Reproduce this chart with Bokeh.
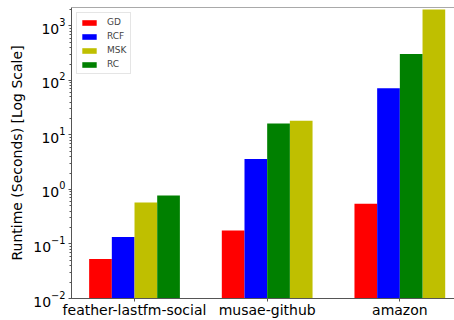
from bokeh.plotting import figure
from bokeh.models import FixedTicker, Range1d, Span, Legend, LegendItem, ColumnDataSource
from bokeh.embed import file_html
from bokeh.resources import INLINE

categories = ["feather-lastfm-social", "musae-github", "amazon"]
series = ["GD", "RCF", "MSK", "RC"]
colors = ["#ff0000", "#0000ff", "#bfbf00", "#008000"]
gd = [0.053, 0.177, 0.546]
rcf = [0.134, 3.63, 72.0]
msk = [0.575, 18.2, 2000.0]
rc = [0.775, 16.2, 305.0]
values = [gd, rcf, msk, rc]

bar_w = 0.171
y_bottom = 0.01
y_top = 2180.0

p = figure(width=454, height=320, output_backend="svg", toolbar_location=None,
           y_axis_type="log",
           x_range=Range1d(-0.475, 2.412), y_range=Range1d(y_bottom, y_top),
           min_border_left=71, min_border_right=0, min_border_top=7, min_border_bottom=0)
p.outline_line_color = None
p.xgrid.visible = False
p.ygrid.visible = False

# bars in each group are ordered by ascending value
n = len(series)
renderers = []
for si, name in enumerate(series):
    xs, tops = [], []
    for ci in range(len(categories)):
        col = [values[k][ci] for k in range(n)]
        rank = sorted(range(n), key=lambda k: col[k]).index(si)
        xs.append(ci + (rank - (n - 1) / 2) * bar_w)
        tops.append(values[si][ci])
    src = ColumnDataSource(dict(x=xs, top=tops, bottom=[y_bottom] * len(xs)))
    r = p.vbar(x="x", top="top", bottom="bottom", width=bar_w, source=src,
               fill_color=colors[si], line_color=None)
    renderers.append((name, r))

top_span = Span(location=y_top, dimension="width", line_color="#555555", line_width=1)
p.add_layout(top_span)

font = "DejaVu Sans"
xa = p.xaxis[0]
xa.ticker = FixedTicker(ticks=list(range(len(categories))))
xa.major_label_overrides = {i: c for i, c in enumerate(categories)}
xa.minor_tick_line_color = None
xa.major_tick_out = 3
xa.major_tick_in = 0
xa.major_label_standoff = 0
xa.axis_label_standoff = 0
xa.major_label_text_font = font
xa.major_label_text_font_size = "14px"
xa.major_label_text_color = "black"
xa.axis_line_color = "#555555"
xa.major_tick_line_color = "#555555"

ya = p.yaxis[0]
ya.axis_label = "Runtime (Seconds) [Log Scale]"
ya.axis_label_text_font = font
ya.axis_label_text_font_style = "normal"
ya.axis_label_text_font_size = "14px"
ya.axis_label_text_color = "black"
ya.axis_label_standoff = 5
ya.major_label_text_font = font
ya.major_label_text_font_size = "14px"
ya.major_label_text_color = "black"
ya.major_tick_out = 3
ya.major_tick_in = 0
ya.minor_tick_out = 2
ya.minor_tick_in = 0
ya.major_label_standoff = 3
ya.axis_line_color = "#555555"
ya.major_tick_line_color = "#555555"
ya.minor_tick_line_color = "#555555"

legend = Legend(items=[LegendItem(label=nm, renderers=[r]) for nm, r in renderers],
                location="top_left", margin=5, padding=3, spacing=2,
                glyph_width=18, glyph_height=7, label_height=12, label_standoff=9,
                label_text_font=font, label_text_font_size="9px",
                border_line_color="#cccccc", border_line_width=1,
                background_fill_alpha=0.8)
p.add_layout(legend)

open("out.html", "w").write(file_html(p, INLINE))
